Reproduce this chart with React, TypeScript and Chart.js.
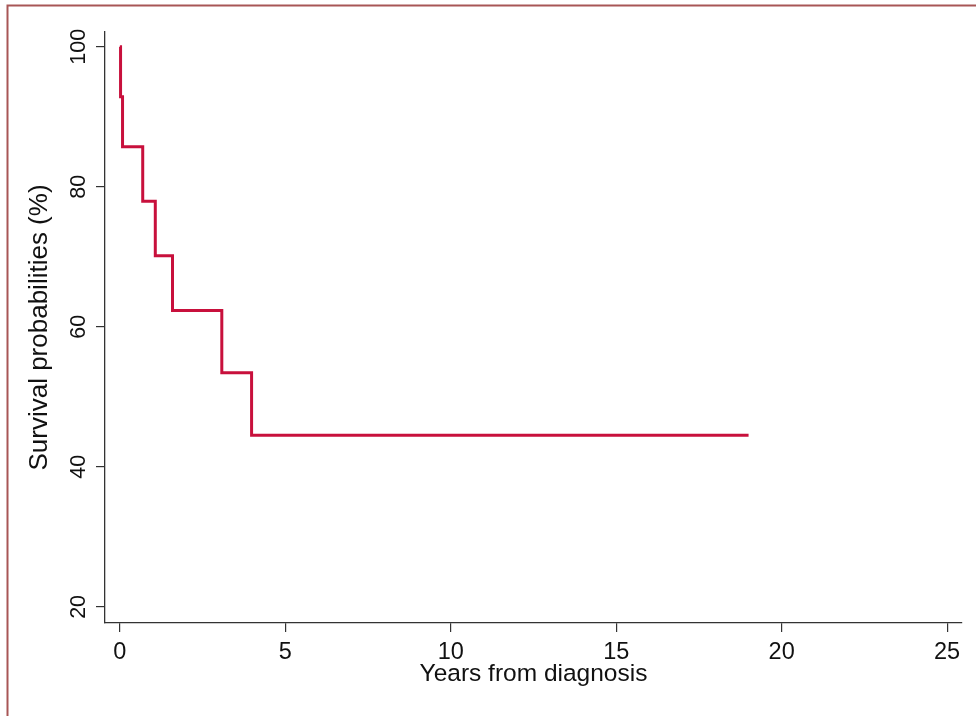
import React, { useEffect, useRef } from "react";
import { Chart, registerables } from "chart.js";

Chart.register(...registerables);

const years = [0, 0.02, 0.08, 0.69, 1.07, 1.59, 3.08, 3.98, 19.0];
const survival = [100, 92.86, 85.71, 77.92, 70.13, 62.34, 53.44, 44.53, 44.53];
const xTicks = [0, 5, 10, 15, 20, 25];
const yTicks = [20, 40, 60, 80, 100];

const FONT = "'Liberation Sans', Arial, Helvetica, sans-serif";

const framePlugin = {
  id: "frame",
  beforeDraw(chart: any) {
    const ctx = chart.ctx;
    ctx.save();
    ctx.fillStyle = "#ffffff";
    ctx.fillRect(0, 0, chart.width, chart.height);
    ctx.strokeStyle = "#a85656";
    ctx.lineWidth = 2;
    ctx.strokeRect(7.5, 5.5, chart.width + 20, chart.height + 20);
    ctx.restore();
  },
};

export default function App() {
  const ref = useRef<HTMLCanvasElement | null>(null);
  useEffect(() => {
    if (!ref.current) return;
    const chart = new Chart(ref.current, {
      type: "line",
      data: {
        datasets: [
          {
            data: years.map((x, i) => ({ x, y: survival[i] })),
            borderColor: "#c8103c",
            borderWidth: 3,
            pointRadius: 0,
            stepped: true,
            fill: false,
          },
        ],
      },
      options: {
        animation: false,
        responsive: false,
        maintainAspectRatio: false,
        layout: { padding: { left: 0, top: 32, right: 14, bottom: 0 } },
        plugins: { legend: { display: false }, tooltip: { enabled: false } },
        scales: {
          x: {
            type: "linear",
            min: -0.45,
            max: 25.45,
            afterBuildTicks: (s: any) => {
              s.ticks = xTicks.map((v) => ({ value: v }));
            },
            afterFit: (s: any) => {
              s.height = 93;
            },
            grid: {
              drawOnChartArea: false,
              drawTicks: true,
              tickLength: 9,
              color: "#333",
              lineWidth: 1.2,
            },
            border: { color: "#333", width: 1.3 },
            ticks: {
              color: "#111",
              font: { family: FONT, size: 23.5 },
              padding: 6,
              maxRotation: 0,
              minRotation: 0,
            },
            title: {
              display: true,
              text: "Years from diagnosis",
              color: "#111",
              font: { family: FONT, size: 24.5 },
              padding: { top: 0, bottom: 27 },
            },
          },
          y: {
            type: "linear",
            min: 17.7,
            max: 102.1,
            afterBuildTicks: (s: any) => {
              s.ticks = yTicks.map((v) => ({ value: v }));
            },
            afterFit: (s: any) => {
              s.width = 105;
            },
            grid: {
              drawOnChartArea: false,
              drawTicks: true,
              tickLength: 9,
              color: "#333",
              lineWidth: 1.2,
            },
            border: { color: "#333", width: 1.3 },
            ticks: {
              color: "#111",
              font: { family: FONT, size: 21.5 },
              padding: -1,
              minRotation: 90,
              maxRotation: 90,
              crossAlign: "center",
            },
            title: {
              display: true,
              text: "Survival probabilities (%)",
              color: "#111",
              font: { family: FONT, size: 26 },
              padding: { top: 24, bottom: 0 },
            },
          },
        },
      },
      plugins: [framePlugin],
    });
    return () => chart.destroy();
  }, []);
  return (
    <div style={{ position: "fixed", left: 0, top: 0, width: 976, height: 716 }}>
      <canvas ref={ref} width={976} height={716} style={{ width: 976, height: 716, display: "block" }} />
    </div>
  );
}
